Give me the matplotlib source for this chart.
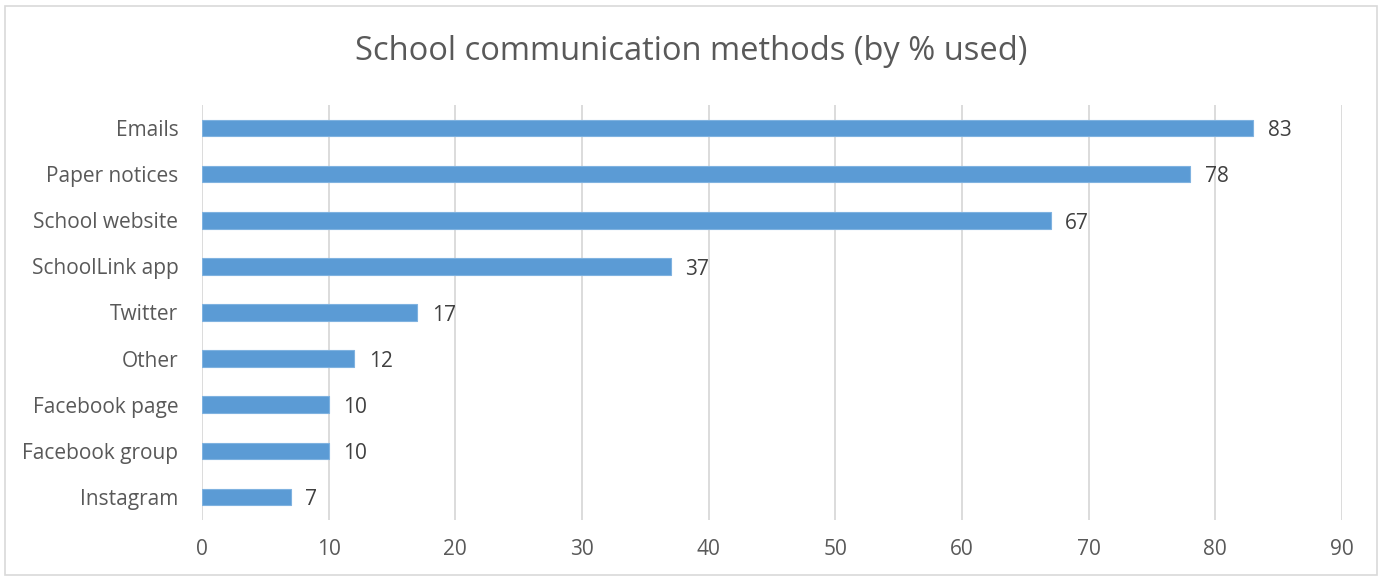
import matplotlib.pyplot as plt
from matplotlib.patches import Rectangle

plt.rcParams['font.family'] = ['Open Sans', 'DejaVu Sans']

methods = ['Emails', 'Paper notices', 'School website', 'SchoolLink app', 'Twitter',
           'Other', 'Facebook page', 'Facebook group', 'Instagram']
pct_used = [83, 78, 67, 37, 17, 12, 10, 10, 7]
xticks = [0, 10, 20, 30, 40, 50, 60, 70, 80, 90]

fig = plt.figure(figsize=(13.83, 5.77), dpi=100)
ax = fig.add_axes([202 / 1383, 1 - 520 / 577, 1140 / 1383, 415 / 577])

# frame around the whole chart, Excel style
fig.patches.append(Rectangle((5 / 1383, 2 / 577), 1372 / 1383, 569 / 577,
                             transform=fig.transFigure, fill=False,
                             edgecolor='#d9d9d9', linewidth=1.2))

y = list(range(len(methods)))
ax.barh(y, pct_used, height=0.36, color='#5b9bd5', edgecolor='#7fb2e0', linewidth=0.8, zorder=3)
for yi, v in zip(y, pct_used):
    ax.text(v + 1.15, yi + 0.06, str(v), va='center', ha='left', fontsize=15, color='#404040')

ax.set_ylim(len(methods) - 0.5, -0.5)
ax.set_xlim(0, 90)
ax.set_yticks(y)
ax.set_yticklabels(methods, fontsize=15, color='#595959')
ax.set_xticks(xticks)
ax.set_xticklabels([str(t) for t in xticks], fontsize=15, color='#595959')
ax.tick_params(axis='both', length=0)
ax.tick_params(axis='y', pad=17)
ax.tick_params(axis='x', pad=14)
ax.grid(axis='x', color='#d9d9d9', linewidth=1.3, zorder=0)
for s in ax.spines.values():
    s.set_visible(False)

fig.text(0.5, 1 - 52 / 577, 'School communication methods (by % used)', ha='center', va='center',
         fontsize=23.5, color='#595959')

fig.savefig('out.png', dpi=100)
